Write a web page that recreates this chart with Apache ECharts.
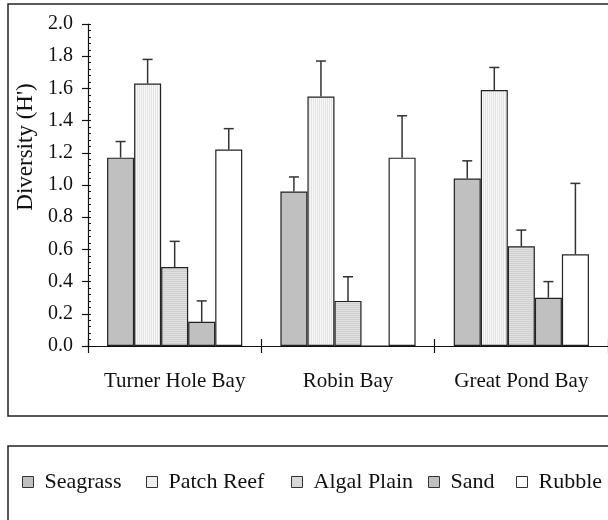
<!DOCTYPE html>
<html>
<head>
<meta charset="utf-8">
<style>
  html, body { margin: 0; padding: 0; background: #fff; }
  #chart { width: 608px; height: 520px; }
</style>
<script src="https://cdn.jsdelivr.net/npm/echarts@6/dist/echarts.min.js"></script>
</head>
<body>
<div id="chart"></div>
<script>
// Mean Shannon diversity (H') per habitat at three bays, with standard-error bars
const categories = ['Turner Hole Bay', 'Robin Bay', 'Great Pond Bay'];
const habitats = ['Seagrass', 'Patch Reef', 'Algal Plain', 'Sand', 'Rubble'];

const seagrass = [1.17, 0.96, 1.04];
const patchReef = [1.63, 1.55, 1.59];
const algalPlain = [0.49, 0.28, 0.62];
const sand = [0.15, 0.00, 0.30];
const rubble = [1.22, 1.17, 0.57];

const seagrassErr = [0.10, 0.09, 0.11];
const patchReefErr = [0.15, 0.22, 0.14];
const algalPlainErr = [0.16, 0.15, 0.10];
const sandErr = [0.13, 0.00, 0.10];
const rubbleErr = [0.13, 0.26, 0.44];

const yTicks = ['0.0', '0.2', '0.4', '0.6', '0.8', '1.0', '1.2', '1.4', '1.6', '1.8', '2.0'];

const FONT = "'Liberation Serif', 'Times New Roman', serif";
const BAR_RATIO = 0.156;

// Small repeating canvases for the striped fills
function stripes(w, h, colors, vertical) {
  const c = document.createElement('canvas');
  c.width = w; c.height = h;
  const ctx = c.getContext('2d');
  colors.forEach(function (col, i) {
    ctx.fillStyle = col;
    if (vertical) ctx.fillRect(i, 0, 1, h); else ctx.fillRect(0, i, w, 1);
  });
  return { image: c, repeat: 'repeat' };
}

const fills = [
  '#c0c0c0',
  stripes(2, 1, ['#f8f8f8', '#e3e3e3'], true),
  stripes(1, 2, ['#e0e0e0', '#cfcfcf'], false),
  '#c0c0c0',
  '#ffffff'
];

const values = [seagrass, patchReef, algalPlain, sand, rubble];
const errors = [seagrassErr, patchReefErr, algalPlainErr, sandErr, rubbleErr];

const series = [];
habitats.forEach(function (name, k) {
  series.push({
    name: name,
    type: 'bar',
    barWidth: (BAR_RATIO * 100) + '%',
    barGap: '0%',
    data: values[k],
    itemStyle: { color: fills[k], borderColor: '#222', borderWidth: 1.2 },
    z: 2
  });
});
habitats.forEach(function (name, k) {
  series.push({
    type: 'custom',
    z: 3,
    silent: true,
    data: values[k].map(function (v, i) { return [i, v, errors[k][i]]; }),
    encode: { x: 0, y: 1 },
    renderItem: function (params, api) {
      const c = api.value(0), v = api.value(1), e = api.value(2);
      if (!e) return null;
      const base = api.coord([c, v]);
      const top = api.coord([c, v + e]);
      const bw = api.size([1, 0])[0] * BAR_RATIO;
      const x = base[0] + (k - 2) * bw;
      const style = { stroke: '#333', lineWidth: 1.5 };
      return {
        type: 'group',
        children: [
          { type: 'line', shape: { x1: x, y1: base[1], x2: x, y2: top[1] }, style: style },
          { type: 'line', shape: { x1: x - 5, y1: top[1], x2: x + 5, y2: top[1] }, style: style }
        ]
      };
    }
  });
});

const legendLefts = [22, 146, 291, 428, 516];
const legends = habitats.map(function (name, k) {
  return {
    data: [name],
    left: legendLefts[k],
    top: 471,
    padding: 0,
    icon: 'rect',
    itemWidth: 11,
    itemHeight: 11,
    selectedMode: false,
    itemStyle: { borderColor: '#333', borderWidth: 1 },
    textStyle: { fontFamily: FONT, fontSize: 22, color: '#111', padding: [0, 0, 0, 6] }
  };
});

const chart = echarts.init(document.getElementById('chart'), null, { renderer: 'canvas' });
chart.setOption({
  animation: false,
  backgroundColor: '#fff',
  grid: { left: 88, top: 24, right: -8, bottom: 174, containLabel: false },
  legend: legends,
  graphic: [
    { type: 'rect', shape: { x: 8, y: 4, width: 640, height: 412 },
      style: { fill: 'none', stroke: '#222', lineWidth: 1.5 }, silent: true },
    { type: 'rect', shape: { x: 8, y: 446, width: 640, height: 120 },
      style: { fill: 'none', stroke: '#222', lineWidth: 1.5 }, silent: true }
  ],
  xAxis: [
    {
      type: 'category',
      data: categories,
      boundaryGap: true,
      axisLine: { lineStyle: { color: '#111', width: 1.2 } },
      axisTick: { show: true, length: 7, lineStyle: { color: '#111', width: 1.2 } },
      axisLabel: { fontFamily: FONT, fontSize: 21, color: '#111', margin: 25, interval: 0, hideOverlap: false },
      splitLine: { show: false }
    },
    {
      type: 'category',
      data: categories,
      position: 'bottom',
      boundaryGap: true,
      axisLine: { show: false },
      axisTick: { show: true, inside: true, length: 7, lineStyle: { color: '#111', width: 1.2 } },
      axisLabel: { show: false },
      splitLine: { show: false }
    }
  ],
  yAxis: [
    {
      type: 'value',
      min: 0,
      max: 2,
      interval: 0.2,
      name: "Diversity (H')",
      nameLocation: 'middle',
      nameGap: 43,
      nameTextStyle: { fontFamily: FONT, fontSize: 23, color: '#111', padding: [0, 0, 0, 76] },
      axisLine: { show: true, lineStyle: { color: '#111', width: 1.2 } },
      axisTick: { show: true, length: 6, lineStyle: { color: '#111', width: 1.2 } },
      axisLabel: {
        fontFamily: FONT, fontSize: 20, color: '#111', margin: 15,
        formatter: function (v) { return yTicks[Math.round(v / 0.2)]; }
      },
      splitLine: { show: false }
    },
    {
      type: 'value',
      position: 'left',
      min: 0,
      max: 2,
      interval: 0.04,
      axisLine: { show: false },
      axisTick: { show: true, inside: true, length: 3, lineStyle: { color: '#111', width: 1 } },
      axisLabel: { show: false },
      splitLine: { show: false }
    }
  ],
  series: series
});
</script>
</body>
</html>
